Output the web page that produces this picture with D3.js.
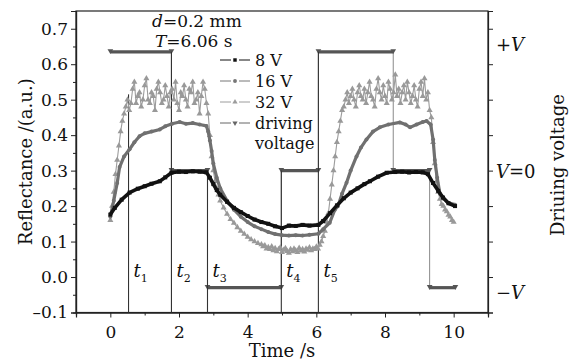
<!DOCTYPE html>
<html>
<head>
<meta charset="utf-8">
<script src="https://cdn.jsdelivr.net/npm/d3@7"></script>
<style>
body { margin: 0; background: #fff; }
text { font-family: "DejaVu Serif", serif; fill: #111; }
</style>
</head>
<body>
<svg id="chart" width="577" height="362"></svg>
<script>
// values
const xTicks = [0, 2, 4, 6, 8, 10];
const yTicks = [-0.1, 0, 0.1, 0.2, 0.3, 0.4, 0.5, 0.6, 0.7];

const r8 = [[0, 0.176], [0.13, 0.195], [0.33, 0.218], [0.56, 0.238], [0.8, 0.249], [1.0, 0.256],
  [1.2, 0.263], [1.44, 0.27], [1.6, 0.281], [1.78, 0.294], [2.0, 0.297], [2.2, 0.296], [2.4, 0.298],
  [2.6, 0.297], [2.8, 0.295], [2.9, 0.28], [3.0, 0.262], [3.1, 0.245], [3.2, 0.232], [3.4, 0.212],
  [3.6, 0.195], [3.8, 0.183], [4.0, 0.172], [4.2, 0.162], [4.4, 0.155], [4.6, 0.15], [4.8, 0.143],
  [5.0, 0.138], [5.2, 0.145], [5.4, 0.144], [5.6, 0.147], [5.8, 0.145], [6.06, 0.147], [6.2, 0.158],
  [6.4, 0.18], [6.6, 0.202], [6.8, 0.222], [7.0, 0.238], [7.2, 0.25], [7.4, 0.262], [7.56, 0.27],
  [7.8, 0.283], [8.05, 0.294], [8.3, 0.296], [8.5, 0.297], [8.7, 0.295], [8.9, 0.296], [9.1, 0.295],
  [9.25, 0.29], [9.4, 0.265], [9.55, 0.243], [9.69, 0.224], [9.85, 0.208], [10.04, 0.2]];

const r16 = [[0, 0.17], [0.1, 0.215], [0.2, 0.265], [0.27, 0.31], [0.4, 0.34], [0.56, 0.36],
  [0.7, 0.38], [0.85, 0.397], [1.0, 0.405], [1.2, 0.41], [1.44, 0.416], [1.6, 0.425], [1.8, 0.432],
  [2.02, 0.437], [2.2, 0.432], [2.4, 0.434], [2.6, 0.43], [2.8, 0.426], [2.85, 0.41], [2.9, 0.385],
  [2.95, 0.355], [3.0, 0.32], [3.1, 0.28], [3.2, 0.25], [3.4, 0.215], [3.6, 0.19], [3.8, 0.17],
  [4.0, 0.155], [4.2, 0.143], [4.4, 0.135], [4.6, 0.127], [4.8, 0.121], [5.0, 0.118], [5.2, 0.117],
  [5.4, 0.118], [5.6, 0.117], [5.8, 0.119], [6.06, 0.122], [6.2, 0.135], [6.39, 0.153], [6.54, 0.19],
  [6.63, 0.2], [6.75, 0.235], [6.88, 0.266], [7.0, 0.3], [7.17, 0.34], [7.3, 0.365], [7.46, 0.388],
  [7.65, 0.41], [7.85, 0.422], [8.1, 0.43], [8.43, 0.436], [8.6, 0.43], [8.73, 0.422], [8.92, 0.43],
  [9.1, 0.437], [9.21, 0.44], [9.33, 0.43], [9.4, 0.388], [9.45, 0.33], [9.52, 0.28], [9.6, 0.235],
  [9.7, 0.222], [9.84, 0.209], [10.04, 0.204]];

const r32Rise1 = [[0, 0.16], [0.05, 0.2], [0.1, 0.24], [0.15, 0.29], [0.2, 0.33], [0.25, 0.37],
  [0.3, 0.41], [0.35, 0.44], [0.4, 0.46], [0.45, 0.48]];
const r32High1 = [0.50, 0.47, 0.49, 0.53, 0.55, 0.49, 0.51, 0.52, 0.48, 0.50, 0.54, 0.56, 0.50, 0.49,
  0.52, 0.51, 0.47, 0.53, 0.55, 0.52, 0.49, 0.50, 0.54, 0.51, 0.48, 0.52, 0.53, 0.50, 0.55, 0.49,
  0.47, 0.52, 0.51, 0.54, 0.50, 0.48, 0.53, 0.52, 0.55, 0.49, 0.50, 0.52, 0.46, 0.51, 0.55, 0.53, 0.49];
const r32Fall1 = [[2.85, 0.46], [2.9, 0.4], [2.95, 0.34], [3.0, 0.3], [3.05, 0.27], [3.1, 0.25],
  [3.15, 0.232], [3.2, 0.215], [3.3, 0.195], [3.4, 0.178], [3.5, 0.163], [3.6, 0.152], [3.7, 0.14],
  [3.8, 0.13], [3.9, 0.121], [4.0, 0.113], [4.1, 0.106], [4.2, 0.1], [4.3, 0.095]];
const r32Low = [0.092, 0.086, 0.089, 0.08, 0.084, 0.078, 0.086, 0.075, 0.081, 0.072, 0.078, 0.083,
  0.07, 0.076, 0.081, 0.073, 0.068, 0.078, 0.072, 0.08, 0.075, 0.07, 0.082, 0.074, 0.078, 0.071,
  0.08, 0.076, 0.083, 0.075, 0.08, 0.078, 0.085, 0.08];
const r32Rise2 = [[6.1, 0.09], [6.15, 0.1], [6.2, 0.115], [6.25, 0.13], [6.3, 0.155], [6.35, 0.18],
  [6.4, 0.22], [6.45, 0.26], [6.5, 0.3], [6.55, 0.34], [6.6, 0.38], [6.65, 0.41], [6.7, 0.44],
  [6.75, 0.47]];
const r32High2 = [0.48, 0.50, 0.52, 0.49, 0.51, 0.53, 0.50, 0.48, 0.52, 0.54, 0.51, 0.50, 0.53, 0.49,
  0.52, 0.55, 0.51, 0.50, 0.48, 0.53, 0.56, 0.52, 0.50, 0.54, 0.51, 0.49, 0.55, 0.53, 0.50, 0.52,
  0.57, 0.51, 0.53, 0.49, 0.52, 0.54, 0.50, 0.55, 0.52, 0.49, 0.51, 0.54, 0.50, 0.48, 0.53, 0.55,
  0.51, 0.56, 0.50, 0.52, 0.47];
const r32Fall2 = [[9.35, 0.45], [9.4, 0.38], [9.45, 0.32], [9.5, 0.27], [9.55, 0.24], [9.6, 0.22],
  [9.65, 0.205], [9.7, 0.2], [9.75, 0.19], [9.8, 0.185], [9.85, 0.175], [9.9, 0.17], [9.95, 0.16],
  [10.0, 0.155]];

const drive = [[0, 0.635], [1.78, 0.635], [1.78, 0.3], [2.83, 0.3], [2.83, -0.03], [4.98, -0.03],
  [4.98, 0.3], [6.06, 0.3], [6.06, 0.635], [8.24, 0.635], [8.24, 0.3], [9.3, 0.3], [9.3, -0.03],
  [10.05, -0.03]];

const tNames = ["1", "2", "3", "4", "5"];
const tTimes = [0.53, 1.78, 2.83, 4.98, 6.06];
const tTops = [0.515, 0.635, 0.3, 0.3, 0.635];

const rightLabels = ["+V", "V=0", "\u2212V"];
const rightLevels = [0.655, 0.297, -0.045];

const legendNames = ["8 V", "16 V", "32 V", "driving"];

function timed(t0, vals) {
    return vals.map((v, i) => [t0 + i * 0.05, v]);
}

const r32 = r32Rise1.concat(timed(0.5, r32High1), r32Fall1, timed(4.4, r32Low), r32Rise2,
    timed(6.8, r32High2), r32Fall2);

const plotLeft = 76, plotRight = 488, plotTop = 11, plotBottom = 312.5;

const x = d3.scaleLinear().domain([-1, 11]).range([plotLeft, plotRight]);
const y = d3.scaleLinear().domain([-0.1, 0.75]).range([plotBottom, plotTop]);

const svg = d3.select("#chart");

// frame
svg.append("rect")
    .attr("x", plotLeft).attr("y", plotTop)
    .attr("width", plotRight - plotLeft).attr("height", plotBottom - plotTop)
    .attr("fill", "none").attr("stroke", "#222").attr("stroke-width", 1.2);

// axes
const xAxis = svg.append("g")
    .attr("transform", `translate(0,${plotBottom})`)
    .call(d3.axisBottom(x).tickValues(xTicks).tickSize(5).tickFormat(d3.format("d")));
svg.append("g")
    .attr("transform", `translate(0,${plotBottom})`)
    .call(d3.axisBottom(x).tickValues([-1, 1, 3, 5, 7, 9, 11]).tickSize(3).tickFormat(""));

svg.append("g")
    .attr("transform", `translate(${plotLeft},0)`)
    .call(d3.axisLeft(y).tickValues(yTicks).tickSize(5)
        .tickFormat(d => d3.format(".1f")(d).replace("-", "\u2013").replace("\u2212", "\u2013")));
svg.append("g")
    .attr("transform", `translate(${plotLeft},0)`)
    .call(d3.axisLeft(y).tickValues(d3.range(-0.05, 0.75, 0.1)).tickSize(3).tickFormat(""));

svg.append("g")
    .attr("transform", `translate(${plotRight},0)`)
    .call(d3.axisRight(y).tickValues(yTicks).tickSize(5).tickFormat(""));

svg.selectAll(".domain").attr("stroke", "#222").attr("stroke-width", 1.2);
svg.selectAll(".tick line").attr("stroke", "#222");
svg.selectAll(".tick text")
    .style("font-family", "DejaVu Serif, serif")
    .style("font-size", "17px")
    .attr("fill", "#111");
xAxis.selectAll(".tick text").attr("dy", "1.05em");

// axis titles
svg.append("text")
    .attr("x", x(5)).attr("y", 357)
    .attr("text-anchor", "middle").style("font-size", "18px")
    .text("Time /s");

svg.append("text")
    .attr("transform", `translate(32,${(plotTop + plotBottom) / 2}) rotate(-90)`)
    .attr("text-anchor", "middle").style("font-size", "18px")
    .text("Reflectance /(a.u.)");

svg.append("text")
    .attr("transform", `translate(564,165) rotate(-90)`)
    .attr("text-anchor", "middle").style("font-size", "18px")
    .text("Driuing voltage");

// right side level labels
rightLabels.forEach((lab, i) => {
    const t = svg.append("text")
        .attr("x", 496).attr("y", y(rightLevels[i]) + 6)
        .style("font-size", "18px");
    if (lab === "V=0") {
        t.append("tspan").style("font-style", "italic").text("V");
        t.append("tspan").text("=0");
    } else {
        t.append("tspan").text(lab[0]);
        t.append("tspan").style("font-style", "italic").text("V");
    }
});

// condition text
const c1 = svg.append("text").attr("x", 152).attr("y", 27).style("font-size", "17px");
c1.append("tspan").style("font-style", "italic").text("d");
c1.append("tspan").text("=0.2 mm");
const c2 = svg.append("text").attr("x", 155).attr("y", 47).style("font-size", "17px");
c2.append("tspan").style("font-style", "italic").text("T");
c2.append("tspan").text("=6.06 s");

const line = d3.line().x(d => x(d[0])).y(d => y(d[1]));

// driving voltage
svg.append("path")
    .datum(drive)
    .attr("d", line)
    .attr("fill", "none").attr("stroke", "#8a8a8a").attr("stroke-width", 1);

const flats = d3.pairs(drive).filter(p => p[0][1] === p[1][1]);
svg.selectAll(".flat")
    .data(flats)
    .join("line")
    .attr("x1", p => x(p[0][0])).attr("x2", p => x(p[1][0]))
    .attr("y1", p => y(p[0][1])).attr("y2", p => y(p[1][1]))
    .attr("stroke", "#555").attr("stroke-width", 3.2);

const triDown = d3.symbol().type(d3.symbolTriangle).size(14);
svg.selectAll(".drv")
    .data(drive)
    .join("path")
    .attr("d", triDown)
    .attr("transform", d => `translate(${x(d[0])},${y(d[1]) - 1}) rotate(180)`)
    .attr("fill", "#555");

// time marker lines
svg.selectAll(".tline")
    .data(tTimes)
    .join("line")
    .attr("x1", d => x(d)).attr("x2", d => x(d))
    .attr("y1", (d, i) => y(tTops[i])).attr("y2", plotBottom)
    .attr("stroke", "#333").attr("stroke-width", 1.1);

tTimes.forEach((t, i) => {
    const g = svg.append("text")
        .attr("x", x(t) + 5).attr("y", y(0))
        .style("font-size", "18px");
    g.append("tspan").style("font-style", "italic").text("t");
    g.append("tspan").attr("dy", 5).style("font-size", "11px").text(tNames[i]);
});

// 32 V
svg.append("path")
    .datum(r32)
    .attr("d", line)
    .attr("fill", "none").attr("stroke", "#9c9c9c").attr("stroke-width", 1.1);
const tri = d3.symbol().type(d3.symbolTriangle).size(16);
svg.selectAll(".m32")
    .data(r32)
    .join("path")
    .attr("d", tri)
    .attr("transform", d => `translate(${x(d[0])},${y(d[1])})`)
    .attr("fill", "#999");

// 16 V
svg.append("path")
    .datum(r16)
    .attr("d", line)
    .attr("fill", "none").attr("stroke", "#707070").attr("stroke-width", 3.2)
    .attr("stroke-linejoin", "round");
svg.selectAll(".m16")
    .data(r16)
    .join("circle")
    .attr("cx", d => x(d[0])).attr("cy", d => y(d[1]))
    .attr("r", 2).attr("fill", "#707070");

// 8 V
svg.append("path")
    .datum(r8)
    .attr("d", line)
    .attr("fill", "none").attr("stroke", "#111").attr("stroke-width", 3.6)
    .attr("stroke-linejoin", "round");
svg.selectAll(".m8")
    .data(r8)
    .join("rect")
    .attr("x", d => x(d[0]) - 2).attr("y", d => y(d[1]) - 2)
    .attr("width", 4).attr("height", 4).attr("fill", "#111");

// legend
const legColors = ["#111", "#777", "#9c9c9c", "#666"];
const legShapes = [d3.symbolSquare, d3.symbolCircle, d3.symbolTriangle, d3.symbolTriangle];
legendNames.forEach((name, i) => {
    const yy = 60 + i * 21;
    svg.append("line").attr("x1", 220).attr("x2", 231).attr("y1", yy).attr("y2", yy)
        .attr("stroke", legColors[i]).attr("stroke-width", 1);
    svg.append("line").attr("x1", 239).attr("x2", 250).attr("y1", yy).attr("y2", yy)
        .attr("stroke", legColors[i]).attr("stroke-width", 1);
    svg.append("path")
        .attr("d", d3.symbol().type(legShapes[i]).size(12))
        .attr("transform", `translate(235,${yy})` + (i === 3 ? " rotate(180)" : ""))
        .attr("fill", legColors[i]);
    svg.append("text").attr("x", 255).attr("y", yy + 6)
        .style("font-size", "16px").text(name);
});
svg.append("text").attr("x", 255).attr("y", 60 + 4 * 21 + 5)
    .style("font-size", "16px").text("voltage");
</script>
</body>
</html>
